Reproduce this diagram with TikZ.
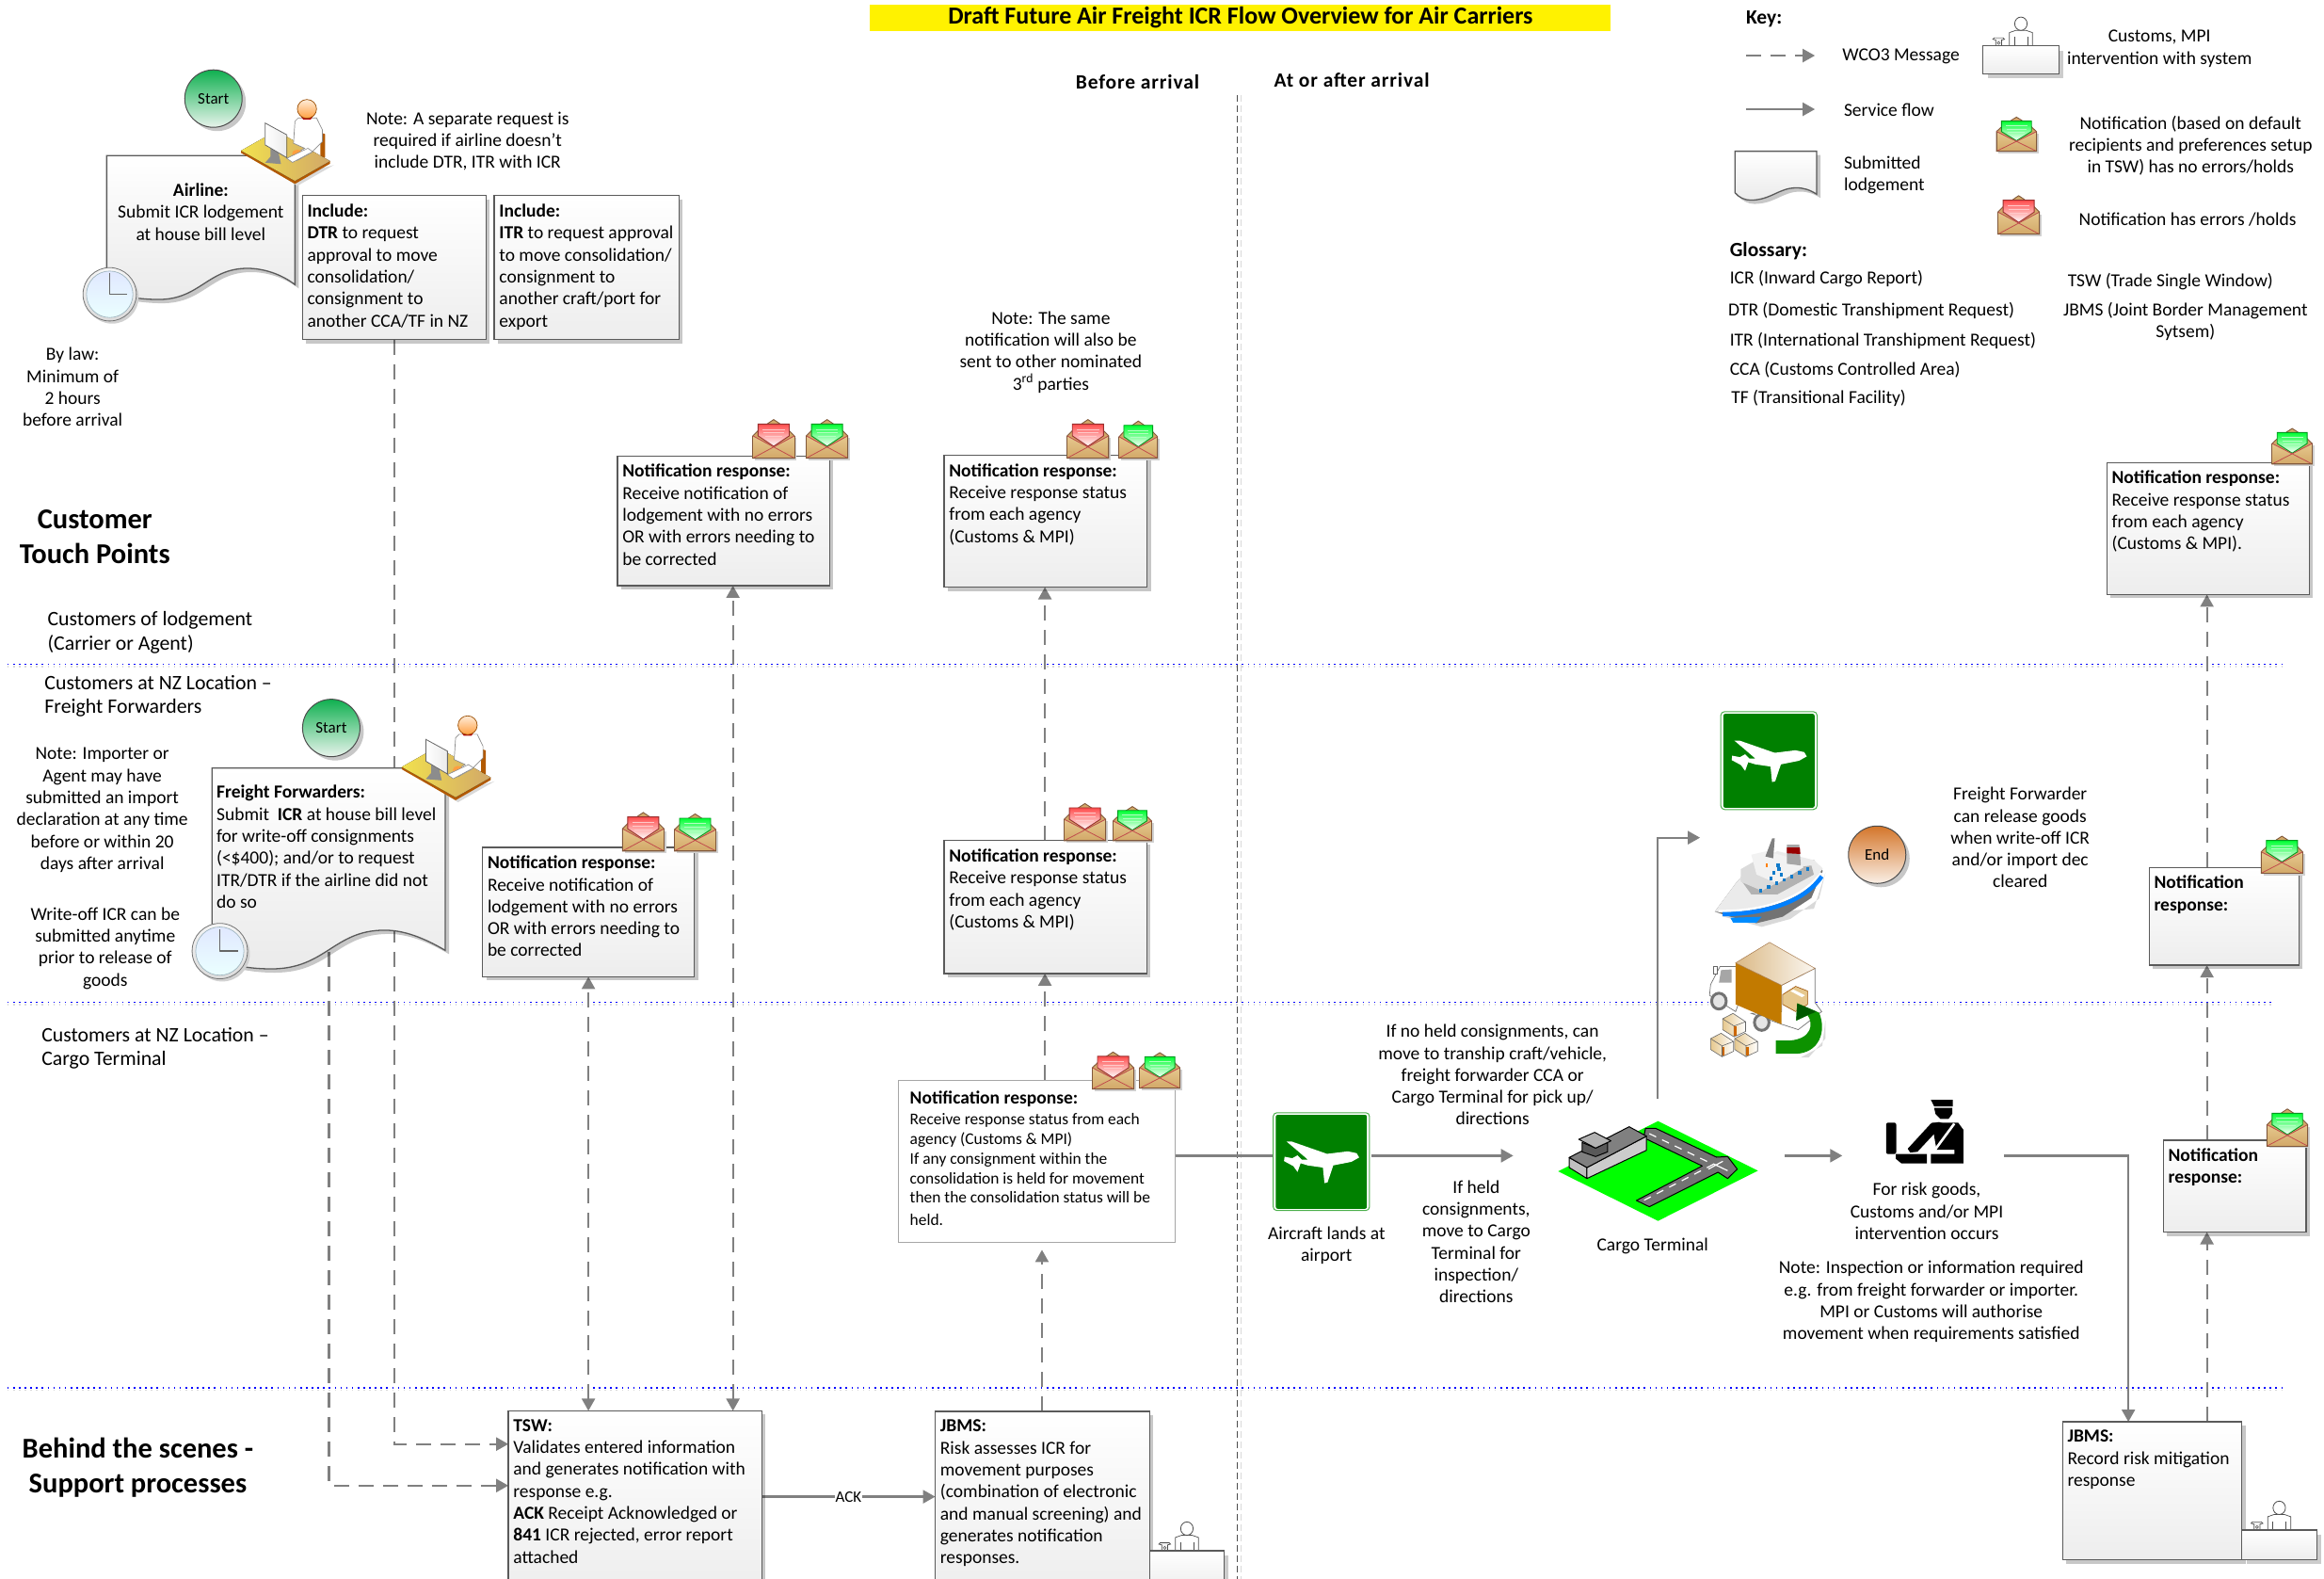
\documentclass[tikz,border=0pt]{standalone}
\usepackage{fontspec}
\setmainfont{Carlito}
\usetikzlibrary{arrows.meta,shadows,backgrounds,shapes.geometric}
\definecolor{flowgrey}{HTML}{808080}
\definecolor{boxedge}{HTML}{5A5A5A}
\definecolor{tan1}{HTML}{E6C88E}
\definecolor{tan2}{HTML}{D2A868}
\definecolor{tanedge}{HTML}{80583A}
\definecolor{signgreen}{HTML}{008000}
\definecolor{starttop}{HTML}{10B050}
\definecolor{startbot}{HTML}{E8F4EC}
\definecolor{endtop}{HTML}{D4762A}
\definecolor{endbot}{HTML}{FAF0E6}
\newcommand{\bodyf}{\fontsize{19.5}{23.3}\selectfont}
\newcommand{\smallf}{\fontsize{17.4}{20.8}\selectfont}
\newcommand{\bigf}{\fontsize{21.8}{25.6}\selectfont}
\newcommand{\headf}{\fontsize{30.5}{36.4}\selectfont\bfseries}
\tikzset{
 softshadow/.style={drop shadow={shadow xshift=4pt,shadow yshift=-4pt,opacity=.22,fill=black}},
 boxst/.style={draw=boxedge,line width=1.3pt,top color=white,bottom color=black!7,inner xsep=5.3pt,inner ysep=9pt,outer sep=0pt,softshadow,font=\bodyf},
 plainbox/.style={draw=black!35,line width=1.3pt,fill=white,inner xsep=12.5pt,inner ysep=9pt,outer sep=0pt,font=\bodyf},
 lbl/.style={font=\bodyf,align=center,inner sep=0pt},
 lbll/.style={font=\bodyf,align=left,inner sep=0pt,anchor=west},
 bigl/.style={font=\bigf,align=left,inner sep=0pt,anchor=west},
 headl/.style={font=\headf,align=center,inner sep=0pt},
 flow/.style={draw=flowgrey,line width=2.2pt,-{Triangle[length=13pt,width=14pt]}},
 flowline/.style={draw=flowgrey,line width=2.2pt},
 msg/.style={draw=flowgrey,line width=2.2pt,dash pattern=on 16pt off 10pt,-{Triangle[length=13pt,width=14pt]}},
 msgboth/.style={draw=flowgrey,line width=2.2pt,dash pattern=on 16pt off 10pt,{Triangle[length=13pt,width=14pt]}-{Triangle[length=13pt,width=14pt]}},
 band/.style={draw=blue,line width=1.7pt,dash pattern=on 1.6pt off 4.5pt},
 bandshadow/.style={draw=black!15,line width=1.5pt,dash pattern=on 1.6pt off 4.5pt},
 docst/.style={draw=boxedge,line width=1.3pt,top color=white,bottom color=black!8,softshadow},
 startst/.style={circle,draw=black!70,line width=1pt,minimum size=61pt,inner sep=0pt,top color=starttop,bottom color=startbot,softshadow,font=\fontsize{17}{20}\selectfont},
 endst/.style={circle,draw=black!70,line width=1pt,minimum size=61pt,inner sep=0pt,top color=endtop,bottom color=endbot,softshadow,font=\fontsize{17}{20}\selectfont},
}
% text box
\newcommand{\tbox}[6]{%
 \pgfmathsetmacro\bw{(#4-#2)*1.5746}\pgfmathsetmacro\bh{(#5-#3)*1.5746}%
 \node[boxst,minimum width=\bw pt,minimum height=\bh pt,anchor=north west] (#1) at (#2,#3)
  {\parbox[t][\dimexpr\bh pt-18pt\relax][t]{\dimexpr\bw pt-10.6pt\relax}{\raggedright #6}};}
% envelope: x1 y1 x2 y2 paper colour
\newcommand{\envel}[5]{%
 \pgfmathsetmacro\exs{(#3-#1)*1.5746/28}\pgfmathsetmacro\eys{(#4-#2)*1.5746/26}%
 \begin{scope}[shift={(#1,#2)},x=\exs pt,y=-\eys pt]
  \fill[black!18] (1.5,12.5)--(1.5,27.5)--(29.5,27.5)--(29.5,12.5)--cycle;
  \draw[tanedge,line width=.9pt,fill=tan2] (0,11)--(4,7)--(11,2)--(14,0)--(17,2)--(24,7)--(28,11)--(28,26)--(0,26)--cycle;
  \draw[#5!60!black,line width=.9pt,top color=#5,bottom color=white] (3.5,3)--(24.5,3)--(24.5,11)--(14,18)--(3.5,11)--cycle;
  \draw[#5!30!white,line width=.7pt] (6.5,6.5)--(21.5,6.5) (7,9)--(21,9) (8,11.5)--(20,11.5);
  \fill[top color=tan1,bottom color=tan2] (0,11)--(14,18.5)--(28,11)--(28,26)--(0,26)--cycle;
  \draw[red!65!black!70!white,line width=.8pt] (0,11)--(14,18.5)--(28,11) (0,26)--(14,18.5)--(28,26);
  \draw[tanedge,line width=1pt] (0,11)--(0,26)--(28,26)--(28,11);
 \end{scope}}
% clock
\newcommand{\clockicon}[3]{%
 \begin{scope}[shift={(#1,#2)}]
  \fill[black!18] (1.6,1.8) circle (#3);
  \draw[black!55,line width=.8pt,top color=black!4,bottom color=black!14] (0,0) circle (#3);
  \pgfmathsetmacro\inr{#3*.87}
  \draw[cyan!40!black!50,line width=.6pt,top color=cyan!25!blue!12!white,bottom color=cyan!8!white] (0,0) circle (\inr);
  \draw[black!60,line width=1.6pt,line join=round] (0,-.8*#3)--(0,0)--(.66*#3,0);
 \end{scope}}
% person at desk; x y = front corner of the desk
\newcommand{\deskperson}[2]{%
 \begin{scope}[shift={(#1,#2)},x=.5102pt,y=-.3571pt]\begin{scope}[shift={(-615,-537)}]
  \fill[black!15] (512,455)--(620,552)--(696,490)--(615,520)--cycle;
  \fill[orange!70!black] (668,393)--(678,398)--(678,468)--(668,468)--cycle;
  \fill[orange!70!black] (503,447)--(503,454)--(615,546)--(688,486)--(688,478)--(615,537)--cycle;
  \fill[left color=yellow!45!tan1,right color=tan2] (503,447)--(576,388)--(688,478)--(615,537)--cycle;
  \draw[black!45,line width=.7pt,fill=white] (615,360)--(622,350)--(660,350)--(672,385)--(672,420)--(650,452)--(620,476)--(600,470)--(635,440)--(612,425)--cycle;
  \fill[red!70!black] (628,346)--(652,346)--(648,354)--(632,354)--cycle;
  \draw[orange!60!black,line width=.7pt,top color=orange!15!white,bottom color=orange!75!white] (640,323) ellipse (20 and 28);
  \fill[orange!75!white] (620,456) ellipse (11 and 12);
  \draw[black!45,line width=.6pt,fill=white] (598,470)--(642,440)--(652,450)--(610,482)--cycle;
  \fill[black!45] (564,425)--(578,435)--(586,487)--(553,483)--(564,465)--cycle;
  \draw[black!60,line width=.8pt,left color=white,right color=black!8] (553,365)--(598,400)--(598,468)--(553,430)--cycle;
 \end{scope}\end{scope}}
% customs desk: x1 y1 x2 y2
\newcommand{\customdesk}[4]{%
 \pgfmathsetmacro\cdx{(#1+#3)/2}
 \draw[black!70,line width=.7pt,fill=white] (\cdx-7.8,#2)--(\cdx-7.8,#2-9)--(\cdx-3.5,#2-10.5)--(\cdx+3.5,#2-10.5)--(\cdx+7.8,#2-9)--(\cdx+7.8,#2)--cycle;
 \draw[black!70,line width=.6pt] (\cdx-4.5,#2)--(\cdx-4.5,#2-6) (\cdx+4.5,#2)--(\cdx+4.5,#2-6);
 \draw[black!70,line width=.8pt,fill=white] (\cdx,#2-15) ellipse (4.2 and 4.5);
 \draw[black!70,line width=.7pt,fill=black!5] (\cdx-19,#2-4.5)--(\cdx-18,#2-5.5)--(\cdx-12,#2-5.5)--(\cdx-11,#2-4.5)--(\cdx-13,#2-4)--(\cdx-13,#2)--(\cdx-17,#2)--(\cdx-17,#2-4)--cycle;
 \draw[black!70,line width=.5pt] (\cdx-15,#2-2) circle (1);
 \fill[black!20] (#1+3,#2+3) rectangle (#3+3,#4+3);
 \draw[boxedge,line width=1.2pt,top color=white,bottom color=black!7] (#1,#2) rectangle (#3,#4);}
% plane sign, top-left corner
\newcommand{\planesign}[2]{%
 \begin{scope}[shift={(#1,#2)},x=.5503pt,y=-.3835pt]\begin{scope}[shift={(-411,-92)}]
  \draw[green!55!black!70!white,line width=1pt,fill=white,rounded corners=4pt] (411,92) rectangle (597,363);
  \fill[signgreen,rounded corners=2pt] (416,98) rectangle (592,358);
  \fill[white] (437,172)--(447,172)--(515,206)--(555,199)--(572,204)--(577,216)--(562,228)--(527,238)--(516,285)--(510,287)--(507,244)--(478,238)--(464,232)--(458,256)--(450,240)--(432,226)--(433,214)--(448,218)--(458,210)--(466,222)--(478,222)--(452,190)--cycle;
 \end{scope}\end{scope}}
\begin{document}
\begin{tikzpicture}[x=1.5746pt,y=-1.5746pt]
\path[use as bounding box] (0,0) rectangle (1568,1065);
\clip (0,0) rectangle (1568,1065);

%% ---- title and column heads
\node[fill=yellow,minimum width=787pt,minimum height=28.5pt,inner sep=0pt,font=\fontsize{26}{30}\selectfont\bfseries] (title) at (837,12) {Draft Future Air Freight ICR Flow Overview for Air Carriers};
\node[font=\fontsize{21.5}{25}\selectfont\bfseries\addfontfeature{LetterSpace=4},inner sep=0pt] (before) at (767.5,55) {Before arrival};
\node[font=\fontsize{21.5}{25}\selectfont\bfseries\addfontfeature{LetterSpace=4},inner sep=0pt] (after) at (912,54) {At or after arrival};

%% ---- boxes
\tbox{incdtr}{204}{132}{328}{229}{\textbf{Include:}\\\textbf{DTR} to request\\approval to move\\consolidation/\\consignment to\\another CCA/TF in NZ}
\tbox{incitr}{333.5}{132}{458}{229}{\textbf{Include:}\\\textbf{ITR} to request approval\\to move consolidation/\\consignment to\\another craft/port for\\export}
\tbox{notA}{416.6}{307.5}{559.6}{395}{\textbf{Notification response:}\\Receive notification of\\lodgement with no errors\\OR with errors needing to\\be corrected}
\tbox{notB}{637}{307}{774}{396}{\textbf{Notification response:}\\Receive response status\\from each agency\\(Customs \& MPI)}
\tbox{notC}{325.6}{571.6}{468.5}{658.8}{\textbf{Notification response:}\\Receive notification of\\lodgement with no errors\\OR with errors needing to\\be corrected}
\tbox{notD}{637}{567}{773.7}{656.6}{\textbf{Notification response:}\\Receive response status\\from each agency\\(Customs \& MPI)}
\pgfmathsetmacro\ebw{(793-606)*1.5746}\pgfmathsetmacro\ebh{(838-728.6)*1.5746}
\node[plainbox,minimum width=\ebw pt,minimum height=\ebh pt,anchor=north west] (notE) at (606,728.6)
 {\parbox[t][\dimexpr\ebh pt-18pt\relax][t]{\dimexpr\ebw pt-25pt\relax}{\raggedright\vspace{3pt}\textbf{Notification response:}\\[1pt]{\smallf Receive response status from each\\agency (Customs \& MPI)\\If any consignment within the\\consolidation is held for movement\\then the consolidation status will be\\held.}}};
\tbox{tsw}{343}{951.6}{514}{1075}{\textbf{TSW:}\\Validates entered information\\and generates notification with\\response e.g.\\\textbf{ACK} Receipt Acknowledged or\\\textbf{841} ICR rejected, error report\\attached}
\tbox{jbmsA}{631}{952}{775.6}{1075}{\textbf{JBMS:}\\Risk assesses ICR for\\movement purposes\\(combination of electronic\\and manual screening) and\\generates notification\\responses.}
\tbox{jbmsB}{1391.6}{959}{1512.6}{1052}{\textbf{JBMS:}\\Record risk mitigation\\response}
\tbox{notTop}{1421.5}{312}{1558}{401}{\textbf{Notification response:}\\Receive response status\\from each agency\\(Customs \& MPI).}
\tbox{notR2}{1450}{585}{1551}{651}{\textbf{Notification}\\\textbf{response:}}
\tbox{notR3}{1459.6}{769}{1556}{831}{\textbf{Notification}\\\textbf{response:}}

%% ---- free ends of the connectors
\coordinate (tswA) at (343,974);
\coordinate (tswB) at (343,1002);
\coordinate (ffEnd) at (222,642);
\coordinate (tswTopC) at (397,951.6);
\coordinate (tswTopA) at (494.5,951.6);
\coordinate (jbmsTop) at (703,952);
\coordinate (notEBelow) at (703,843);
\coordinate (notETop) at (705,728.6);
\coordinate (notEside) at (793,779.5);
\coordinate (signin) at (859,779.5);
\coordinate (signout) at (925,779.5);
\coordinate (termIn) at (1021,779.5);
\coordinate (termUp) at (1118.6,741);
\coordinate (shipIn) at (1147,565);
\coordinate (offIn) at (1204,779.5);
\coordinate (offTip) at (1243,779.5);
\coordinate (offOut) at (1352,779.5);
\coordinate (jbmsBTop) at (1436,959);
\coordinate (jbmsBTopR) at (1489,959);

%% ---- connectors and lines behind everything
\begin{pgfonlayer}{background}
 \draw[bandshadow] (5,449.6)--(1540,449.6);
 \draw[bandshadow] (5,677.6)--(1535,677.6);
 \draw[bandshadow] (5,937.6)--(1540,937.6);
 \draw[band] (5,448)--(1540,448);
 \draw[band] (5,676)--(1535,676);
 \draw[band] (5,936)--(1540,936);
 \draw[black!15,line width=.8pt,dash pattern=on 7pt off 4pt] (837,64)--(837,1065);
 \draw[black!70,line width=.8pt,dash pattern=on 7pt off 4pt] (835,64)--(835,1065);
 \draw[msg] (incdtr.south) |- (tswA);
 \draw[msg] (ffEnd) |- (tswB);
 \draw[msgboth] (tswTopC) -- (tswTopC |- notC.south);
 \draw[msgboth] (tswTopA) -- (tswTopA |- notA.south);
 \draw[msg] (jbmsTop) -- (notEBelow);
 \draw[msg] (notETop) -- (notETop |- notD.south);
 \draw[msg] (notETop |- notD.north) -- (notETop |- notB.south);
 \draw[flowline] (notEside) -- (signin);
 \draw[flow] (signout) -- (termIn);
 \draw[flow] (termUp) |- (shipIn);
 \draw[flow] (offIn) -- (offTip);
 \draw[flow] (offOut) -| (jbmsBTop);
 \draw[msg] (jbmsBTopR) -- (jbmsBTopR |- notR3.south);
 \draw[msg] (jbmsBTopR |- notR3.north) -- (jbmsBTopR |- notR2.south);
 \draw[msg] (jbmsBTopR |- notR2.north) -- (jbmsBTopR |- notTop.south);
 \draw[flow] (tsw.east |- 0,1009.5) -- (jbmsA.west |- 0,1009.5) node[midway,fill=white,inner xsep=1pt,inner ysep=0pt,font=\fontsize{17}{20}\selectfont] (acklab) {ACK};
\end{pgfonlayer}

%% ---- lodgement documents
\draw[docst] (72,105)--(199,105)--(199,192) .. controls (190,185) and (178,181) .. (167,181) .. controls (140,181) and (135,202) .. (107,202) .. controls (95,202) and (82,200) .. (72,197) -- cycle;
\draw[docst] (143,518)--(300.4,518)--(300.4,641) .. controls (285,632) and (272,627.4) .. (259.5,627.4) .. controls (225,627.4) and (220,653.5) .. (183,653.5) .. controls (165,653.5) and (152,650) .. (143,645) -- cycle;
\draw[docst] (1170.6,102)--(1225.7,102)--(1225.7,131) .. controls (1221,128) and (1217,126.7) .. (1212,126.7) .. controls (1200,126.7) and (1195,135) .. (1181,135) .. controls (1177,135) and (1173,133) .. (1170.6,130) -- cycle;
\node[lbl] (airline) at (135.5,143) {\textbf{Airline:}\\Submit ICR lodgement\\at house bill level};
\node[lbll,anchor=north west,font=\bodyf] (fftext) at (146,529.7) {\textbf{Freight Forwarders:}\\Submit\ \ \textbf{ICR} at house bill level\\for write-off consignments\\(<\$400); and/or to request\\ITR/DTR if the airline did not\\do so};

%% ---- start and end
\node[startst] (start1) at (144,66.5) {Start};
\node[startst] (start2) at (223.5,491) {Start};
\node[endst] (endn) at (1266.5,576.5) {End};

%% ---- small icons
\deskperson{199}{122}
\deskperson{307.4}{537.7}
\clockicon{74}{198.5}{18}
\clockicon{148.3}{641.5}{18.7}
\envel{508}{283}{536}{309}{red!70!white}
\envel{544}{283}{572}{309}{green!80!cyan}
\envel{720}{283}{748}{309}{red!70!white}
\envel{755}{284}{781}{309}{green!80!cyan}
\envel{420}{548}{448}{574}{red!70!white}
\envel{455}{549}{483}{574}{green!80!cyan}
\envel{718}{542}{746}{567}{red!70!white}
\envel{751}{544}{777}{567}{green!80!cyan}
\envel{737}{709.6}{765}{734.6}{red!70!white}
\envel{769}{710}{796}{734}{green!80!cyan}
\envel{1533}{289}{1560}{313}{green!80!cyan}
\envel{1525.6}{564}{1553.6}{589}{green!80!cyan}
\envel{1529.5}{748}{1557}{773}{green!80!cyan}
\envel{1347}{79}{1374}{102}{green!80!cyan}
\envel{1348}{132}{1376}{158}{red!70!white}
\customdesk{1338}{31}{1389}{50}
\customdesk{775.6}{1046}{826}{1072}
\customdesk{1512.6}{1032}{1563}{1052}
\planesign{859}{750.5}
\planesign{1161}{480}

%% ---- ship
\begin{scope}[shift={(1600pt,-720pt)},x=.5543pt,y=-.3831pt]
 \fill[black!15] (412,660)--(490,690)--(545,668)--(600,612)--(612,540)--(590,640)--cycle;
 \fill[black!55] (400,648)--(430,662)--(480,680)--(530,662)--(585,610)--(607,535)--(590,505)--(470,520)--(440,570)--cycle;
 \fill[black!8] (400,648)--(440,570)--(470,520)--(520,480)--(590,505)--(607,528)--(585,575)--(530,620)--(470,640)--(420,650)--cycle;
 \draw[line width=2.5pt,white] (408,646) .. controls (480,648) and (565,620) .. (604,540);
 \draw[line width=4.5pt,blue!50!cyan] (415,655) .. controls (490,655) and (570,625) .. (605,550);
 \fill[blue!45!cyan] (430,665)--(490,662)--(480,678)--(435,678)--cycle;
 \fill[black!30] (450,560)--(500,535)--(585,520)--(590,545)--(520,600)--(470,600)--cycle;
 \fill[black!14] (450,530)--(480,505)--(520,510)--(530,560)--(490,590)--(450,565)--cycle;
 \fill[black!5] (470,490)--(500,480)--(560,505)--(570,525)--(520,570)--(480,545)--cycle;
 \fill[black!50] (497,495)--(510,445)--(515,445)--(512,500)--cycle;
 \fill[black!35] (538,462)--(562,462)--(565,520)--(538,515)--cycle;
 \fill[red!60!black] (538,470)--(563,470)--(564,488)--(538,486)--cycle;
 \foreach \wx/\wy in {485/585,500/575,515/565,530/555,545/545,560/535,575/525,510/535,520/525,505/550,518/515,525/540}
  \fill[cyan!60!blue] (\wx,\wy) rectangle ++(6,10);
 \fill[orange] (497,515) rectangle ++(5,10);
\end{scope}

%% ---- truck and parcels
\begin{scope}[shift={(1600pt,-720pt)},x=.5543pt,y=-.3831pt]
 \draw[black!55,line width=.7pt,fill=white] (445,800)--(410,800)--(392,850)--(390,880)--(440,925)--(445,905)--cycle;
 \fill[black!35] (412,810)--(432,808)--(432,845)--(408,845)--cycle;
 \draw[black!60,line width=.8pt,fill=white] (397,820) rectangle (404,800);
 \draw[black!55,line width=.7pt,fill=white] (470,930)--(528,960)--(560,975)--(605,925)--(592,900)--(592,805)--(528,852)--(528,925)--cycle;
 \draw[black!55,line width=3pt,fill=black!10] (408,896) ellipse (14 and 22);
 \draw[black!55,line width=3pt,fill=black!10] (490,955) ellipse (14 and 22);
 \fill[orange!70!black!80!yellow] (440,790)--(528,852)--(528,960)--(440,905)--cycle;
 \draw[orange!50!black!70,line width=.5pt,left color=tan2!80!white,right color=tan2!10!white] (440,790)--(505,733)--(592,805)--(528,852)--cycle;
 \draw[orange!60!black,line width=.6pt,fill=tan1] (530,878)--(555,855)--(578,868)--(578,905)--(555,925)--(530,905)--cycle;
 \fill[white] (545,868)--(551,864)--(573,880)--(567,885)--cycle;
 \foreach \bx/\by in {392/1000,415/945,438/1000}{
  \draw[black!60,line width=.6pt,left color=tan1,right color=white] (\bx,\by)--(\bx+20,\by-15)--(\bx+44,\by+8)--(\bx+44,\by+35)--(\bx+22,\by+50)--(\bx,\by+30)--cycle;
  \draw[black!60,line width=.6pt] (\bx+22,\by+20)--(\bx+22,\by+50) (\bx,\by)--(\bx+22,\by+20)--(\bx+44,\by+8);
  \fill[orange!80!black] (\bx+22,\by+22) rectangle ++(5,24);}
 \fill[black!15] (522,1052)--(565,1052)--(606,1020)--(612,950)--(612,1000)--(580,1052)--cycle;
 \fill[green!55!black!95!yellow] (517,1005)--(545,1005) .. controls (585,1000) and (590,960) .. (578,935)--(556,950)--(558,902)--(600,928) .. controls (615,980) and (600,1040) .. (555,1042)--(517,1042)--cycle;
 \fill[green!35!black] (578,935)--(556,950)--(558,902)--(595,925)--cycle;
\end{scope}

%% ---- cargo terminal and officer
\begin{scope}[shift={(1440pt,-1060pt)},x=.5102pt,y=-.3333pt]
 \fill[green] (422,552)--(630,392)--(838,550)--(630,710)--cycle;
 \draw[black,line width=1pt,fill=black!55,line join=round] (604,415)--(625,415)--(752,507)--(775,505)--(795,545)--(775,575)--(755,555)--(612,665)--(585,645)--(722,535)--(600,445)--cycle;
 \draw[white,line width=1.2pt,dash pattern=on 8pt off 7pt] (612,432)--(745,530)--(600,645);
 \draw[white,line width=1.2pt] (745,528)--(775,550) (735,545)--(765,520);
 \draw[black,line width=1pt,fill=black!25,line join=round] (445,508)--(482,540)--(482,575)--(445,540)--cycle;
 \draw[black,line width=1pt,fill=black!20,line join=round] (482,540)--(606,440)--(606,485)--(482,575)--cycle;
 \draw[black,line width=1pt,fill=black!50,line join=round] (445,508)--(570,410)--(606,440)--(482,540)--cycle;
 \draw[black,line width=1pt,fill=black!65,line join=round] (472,460)--(500,478)--(525,460)--(525,490)--(500,505)--(472,490)--cycle;
 \draw[black,line width=1pt,fill=black!30,line join=round] (465,450)--(498,428)--(532,455)--(500,478)--cycle;
 % officer
 \fill[black] (1198,324)--(1244,324)--(1244,345)--(1205,345)--cycle;
 \fill[black] (1205,350)--(1243,350)--(1243,368)--(1235,385)--(1218,385)--(1208,370)--cycle;
 \fill[black] (1200,397)--(1255,397)--(1266,420)--(1266,527)--(1198,527)--(1198,497)--(1247,497)--(1247,483)--(1210,483)--cycle;
 \fill[black] (1150,480)--(1198,400)--(1215,395)--(1225,400)--(1170,490)--(1155,492)--cycle;
 \draw[white,line width=2.6pt] (1247,400)--(1205,487);
 \fill[black,rounded corners=2pt] (1105,397) rectangle (1126,497);
 \fill[black] (1125,497)--(1190,497)--(1190,527)--(1137,527)--(1125,512)--cycle;
\end{scope}

%% ---- labels, left column
\node[lbl] (noteA) at (315.5,95.3) {Note: A separate request is\\required if airline doesn’t\\include DTR, ITR with ICR};
\node[lbl] (bylaw) at (49,261) {By law:\\Minimum of\\2 hours\\before arrival};
\node[headl] (custtp) at (64,362) {Customer\\Touch Points};
\node[bigl] (custlodge) at (32,426.5) {Customers of lodgement\\(Carrier or Agent)};
\node[bigl] (custff) at (30,469.5) {Customers at NZ Location --\\Freight Forwarders};
\node[lbl] (noteImp) at (69,546.5) {Note: Importer or\\Agent may have\\submitted an import\\declaration at any time\\before or within 20\\days after arrival};
\node[lbl] (noteWO) at (71,639.5) {Write-off ICR can be\\submitted anytime\\prior to release of\\goods};
\node[bigl] (custct) at (28,707) {Customers at NZ Location --\\Cargo Terminal};
\node[headl] (behind) at (93,990) {Behind the scenes -\\Support processes};

%% ---- labels, middle and right
\node[lbl] (noteSame) at (709,237.5) {Note: The same\\notification will also be\\sent to other nominated\\3\textsuperscript{rd} parties};
\node[lbl] (aircraft) at (895,840) {Aircraft lands at\\airport};
\node[lbl] (noHeld) at (1007,725) {If no held consignments, can\\move to tranship craft/vehicle,\\freight forwarder CCA or\\Cargo Terminal for pick up/\\directions};
\node[lbl] (held) at (996,837.5) {If held\\consignments,\\move to Cargo\\Terminal for\\inspection/\\directions};
\node[lbl] (cargoT) at (1115,840.5) {Cargo Terminal};
\node[lbl] (risk) at (1300,817) {For risk goods,\\Customs and/or MPI\\intervention occurs};
\node[lbl] (noteInsp) at (1303,878) {Note: Inspection or information required\\e.g. from freight forwarder or importer.\\MPI or Customs will authorise\\movement when requirements satisfied};
\node[lbl] (ffrel) at (1363,565) {Freight Forwarder\\can release goods\\when write-off ICR\\and/or import dec\\cleared};

%% ---- key and glossary
\node[lbll,font=\fontsize{21.5}{25}\selectfont\bfseries] (keyh) at (1178,13) {Key:};
\coordinate (keyA1) at (1178,37.5); \coordinate (keyA2) at (1224.5,37.5);
\coordinate (keyB1) at (1178,73.7); \coordinate (keyB2) at (1224.5,73.7);
\draw[msg] (keyA1) -- (keyA2);
\draw[flow] (keyB1) -- (keyB2);
\node[lbll] (keyWco) at (1243,38) {WCO3 Message};
\node[lbll] (keyServ) at (1244,74) {Service flow};
\node[lbll] (keySub) at (1244,118) {Submitted\\lodgement};
\node[lbl] (keyCust) at (1457,32.8) {Customs, MPI\\intervention with system};
\node[lbl] (keyNot) at (1478,98.3) {Notification (based on default\\recipients and preferences setup\\in TSW) has no errors/holds};
\node[lbl] (keyErr) at (1476,148) {Notification has errors /holds};
\node[lbll,font=\fontsize{21.5}{25}\selectfont\bfseries] (gloss) at (1167,169.5) {Glossary:};
\node[lbll] (g1) at (1167,188) {ICR (Inward Cargo Report)};
\node[lbll] (g2) at (1166,209.7) {DTR (Domestic Transhipment Request)};
\node[lbll] (g3) at (1167,229.7) {ITR (International Transhipment Request)};
\node[lbll] (g4) at (1167,249.7) {CCA (Customs Controlled Area)};
\node[lbll] (g5) at (1168,268.7) {TF (Transitional Facility)};
\node[lbll] (g6) at (1395,190) {TSW (Trade Single Window)};
\node[lbl] (g7) at (1474.5,217) {JBMS (Joint Border Management\\Sytsem)};
\end{tikzpicture}
\end{document}
